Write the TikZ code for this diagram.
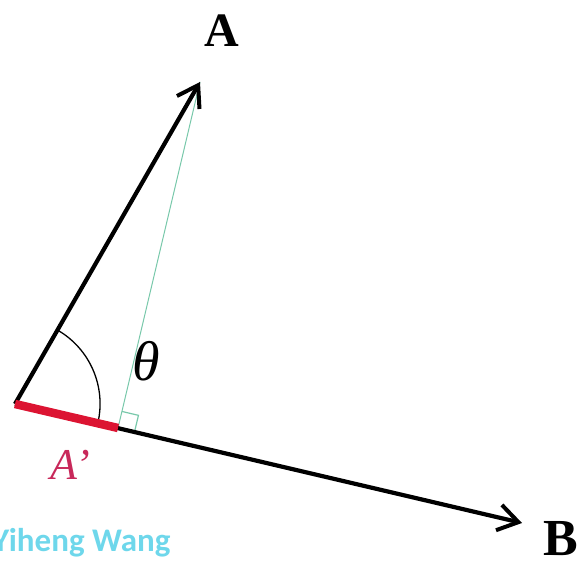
\documentclass[tikz,border=0pt]{standalone}
\usepackage{fontspec}
\setmainfont{Liberation Serif}
\newfontfamily\markfont{Carlito}
\usetikzlibrary{positioning, arrows.meta, calc}

\definecolor{projred}{RGB}{220,20,50}
\definecolor{labred}{RGB}{200,40,90}
\definecolor{perpgreen}{RGB}{120,200,170}
\definecolor{markcyan}{RGB}{110,215,235}

\begin{document}
\begin{tikzpicture}[
    x=1pt, y=1pt,
    vec/.style={-{Straight Barb[length=20pt, width=26pt, line width=4pt]}, line width=4.2pt, black},
    proj/.style={line width=8.5pt, projred},
    perp/.style={line width=1pt, perpgreen},
    vlabel/.style={font=\fontsize{48}{48}\selectfont\bfseries, inner sep=0pt},
    anglab/.style={font=\fontsize{56}{56}\selectfont\itshape, inner sep=0pt}
]
\useasboundingbox (0,0) rectangle (582,561);

% === POINTS ===
\coordinate (O) at (15,157);
\coordinate (Atip) at (200,479);
\coordinate (Btip) at (522,38);
\coordinate (foot) at (118,133);

% === PROJECTION ===
\draw[perp] (foot) -- (Atip);
\draw[perp, line width=1.2pt] ($(foot)!17pt!(Btip)$) -- ($(foot)!17pt!(Btip)!17pt!-90:(foot)$)
    -- ($(foot)!17pt!(Atip)$);

% angle arc
\draw[line width=1.3pt] ($(O)!85pt!(Btip)$) arc[start angle=-13.4, end angle=60.3, radius=85pt];

% === VECTORS ===
\draw[vec] (O) -- (Atip);
\draw[vec] (O) -- (Btip);
\draw[proj] (O) -- (foot);

% === LABELS ===
\node[vlabel] (labA) at (222,530) {A};
\node[vlabel, font=\fontsize{52}{52}\selectfont\bfseries] (labB) at (561,22) {B};
\node[anglab] (labTheta) at (146,200) {θ};
\node[font=\fontsize{44}{44}\selectfont\itshape, text=labred, inner sep=0pt] (labAp) at (70,96) {A’};
\node[font=\markfont\fontsize{33}{33}\selectfont\bfseries, text=markcyan, anchor=base west, inner sep=0pt]
    (mark) at (-8,9) {Yiheng Wang};

\end{tikzpicture}
\end{document}
